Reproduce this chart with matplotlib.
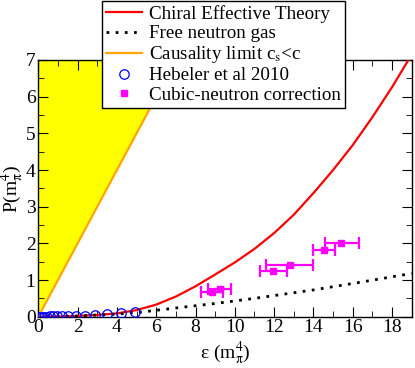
import matplotlib
matplotlib.use('Agg')
import matplotlib.pyplot as plt
from matplotlib.lines import Line2D
from matplotlib.ticker import MultipleLocator

plt.rcParams['font.family'] = ['Liberation Serif', 'DejaVu Serif']
plt.rcParams['mathtext.fontset'] = 'stix'

# Chiral Effective Theory
eps_chiral = [0, 1, 2, 3, 4, 5, 6, 7, 8, 9, 10, 11, 12, 13, 14, 15, 16, 17, 18, 19]
p_chiral = [0, 0.003, 0.02, 0.05, 0.09, 0.18, 0.33, 0.55, 0.83, 1.15, 1.48, 1.85, 2.28, 2.78,
            3.37, 4.0, 4.68, 5.44, 6.26, 7.15]

# free neutron gas
eps_free = [0, 2, 4, 5.3, 7.2, 9, 11, 14, 16.5, 19]
p_free = [0, 0.02, 0.07, 0.13, 0.25, 0.36, 0.5, 0.73, 0.95, 1.18]

# causality limit P = eps
eps_caus = [0, 7.5]
p_caus = [0, 7.5]

# Hebeler et al 2010
eps_heb = [0.04, 0.17, 0.3, 0.42, 0.59, 0.76, 0.93, 1.19, 1.52, 1.92, 2.37, 2.88, 3.52, 4.2, 4.9]
p_heb = [0, 0, 0, 0, 0.01, 0.01, 0.01, 0.01, 0.02, 0.02, 0.03, 0.04, 0.06, 0.09, 0.12]

# cubic-neutron correction
eps_cub = [8.85, 9.24, 11.95, 12.8, 14.52, 15.42]
p_cub = [0.66, 0.75, 1.25, 1.41, 1.82, 2.0]
eps_lo = [8.3, 8.64, 11.27, 11.58, 13.98, 14.58]
eps_hi = [9.4, 9.83, 12.63, 13.98, 15.08, 16.3]

xerr = [[c - l for c, l in zip(eps_cub, eps_lo)], [h - c for c, h in zip(eps_cub, eps_hi)]]

fig = plt.figure(figsize=(4.15, 3.68), dpi=100)
ax = fig.add_axes([38.3 / 415, 1 - 316.7 / 368, (411.7 - 38.3) / 415, (316.7 - 60) / 368])

ax.fill_between(eps_caus, p_caus, 7.5, color='yellow', lw=0, zorder=1)
l1, = ax.plot(eps_chiral, p_chiral, color='red', lw=1.6, zorder=3, label='Chiral Effective Theory')
l2, = ax.plot(eps_free, p_free, color='black', lw=2, ls=(0, (1, 2.3)), zorder=3, label='Free neutron gas')
l3, = ax.plot(eps_caus, p_caus, color='#ffa500', lw=1.6, zorder=3, label='Causality limit c$_\\mathrm{s}$<c')
l4, = ax.plot(eps_heb, p_heb, ls='none', marker='o', ms=6.8, mfc='none', mec='blue', mew=0.9, zorder=4,
              label='Hebeler et al 2010')
ax.errorbar(eps_cub, p_cub, xerr=xerr, fmt='s', color='magenta', ms=5, elinewidth=1.6,
            capsize=4, capthick=1.6, zorder=5)
l5 = Line2D([], [], ls='none', marker='s', ms=5, color='magenta', label='Cubic-neutron correction')

ax.set_xlim(0, 19)
ax.set_ylim(0, 7)
ax.xaxis.set_major_locator(MultipleLocator(2))
ax.xaxis.set_minor_locator(MultipleLocator(1))
ax.yaxis.set_major_locator(MultipleLocator(1))
ax.yaxis.set_minor_locator(MultipleLocator(0.5))
ax.tick_params(which='both', direction='in', top=True, right=True, labelsize=14, pad=2)
ax.tick_params(which='major', length=7)
ax.tick_params(which='minor', length=4)
for s in ax.spines.values():
    s.set_linewidth(1)

ax.set_xlabel('ε (m$_\\mathrm{π}^{\\mathrm{4}}$)', fontsize=14, labelpad=2)
ax.set_ylabel('P(m$_\\mathrm{π}^{\\mathrm{4}}$)', fontsize=14)
ax.yaxis.set_label_coords(-0.033, 0.5)

leg = fig.legend(handles=[l1, l2, l3, l4, l5], loc='upper left', bbox_to_anchor=(102 / 415, 1 - 1 / 368),
                 fontsize=13.7, frameon=True, fancybox=False, edgecolor='black', framealpha=1,
                 borderaxespad=0, handlelength=1.9, handletextpad=0.37, labelspacing=0.1,
                 borderpad=0.22)
leg.get_frame().set_linewidth(1)

plt.savefig('out.png', dpi=100)
